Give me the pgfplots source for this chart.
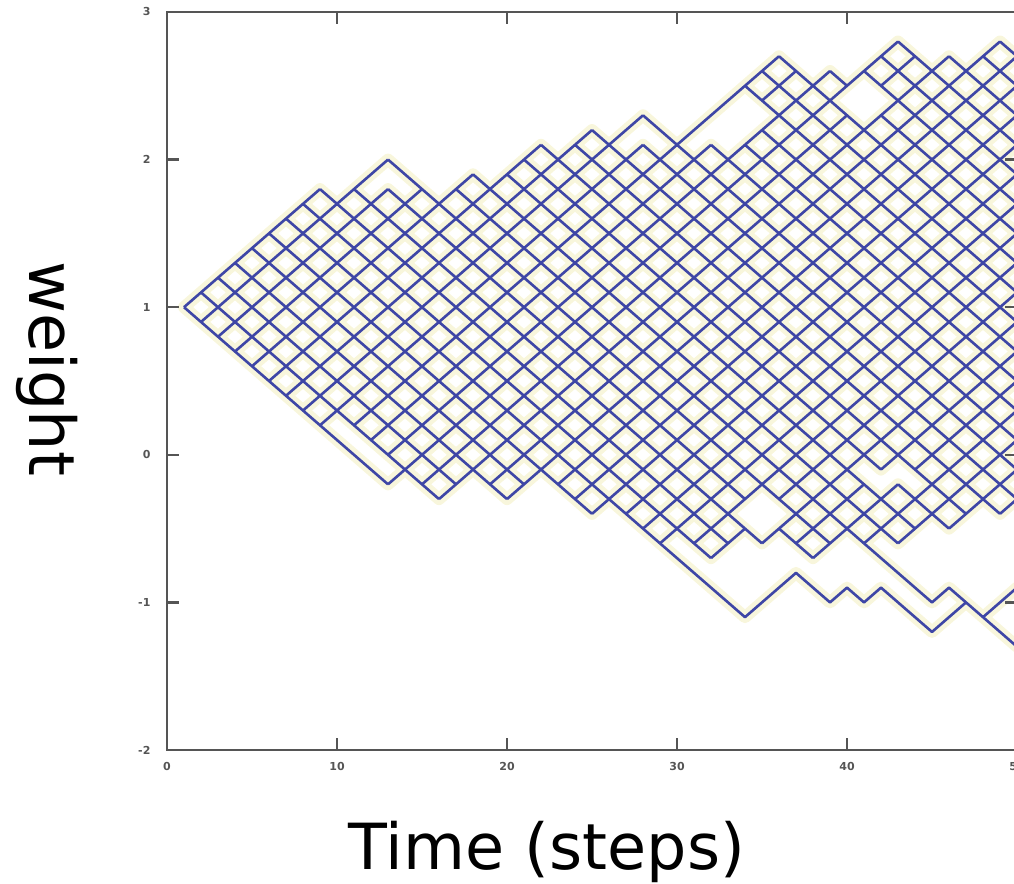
\documentclass[border=0pt]{standalone}
\usepackage{fontspec}
\setmainfont{DejaVu Sans}
\usepackage{pgfplots}
\usepackage{pgfplotstable}
\pgfplotsset{compat=1.18}

\definecolor{walk}{RGB}{62,70,166}
\definecolor{halo}{RGB}{248,246,220}
\definecolor{spine}{RGB}{85,85,85}

% Straight runs of the weight paths (each step moves the weight by 0.1);
% runs are separated by nan rows.
\pgfplotstableread{
t w
1 1.0
9 1.8
nan nan
2 0.9
13 2.0
nan nan
3 0.8
13 1.8
nan nan
4 0.7
15 1.8
nan nan
5 0.6
18 1.9
nan nan
6 0.5
22 2.1
nan nan
7 0.4
25 2.2
nan nan
8 0.3
28 2.3
nan nan
9 0.2
28 2.1
nan nan
11 0.2
36 2.7
nan nan
12 0.1
32 2.1
nan nan
35 2.4
37 2.6
nan nan
13 0.0
39 2.6
nan nan
13 -0.2
43 2.8
nan nan
15 -0.2
40 2.3
nan nan
42 2.5
44 2.7
nan nan
16 -0.3
46 2.7
nan nan
19 -0.2
49 2.8
nan nan
20 -0.3
50 2.7
nan nan
23 -0.2
50 2.5
nan nan
24 -0.3
50 2.3
nan nan
25 -0.4
50 2.1
nan nan
27 -0.4
50 1.9
nan nan
28 -0.5
50 1.7
nan nan
29 -0.6
50 1.5
nan nan
31 -0.6
50 1.3
nan nan
32 -0.7
34 -0.5
nan nan
36 -0.3
50 1.1
nan nan
35 -0.6
50 0.9
nan nan
37 -0.6
41 -0.2
nan nan
42 -0.1
50 0.7
nan nan
38 -0.7
43 -0.2
nan nan
44 -0.1
50 0.5
nan nan
41 -0.6
50 0.3
nan nan
43 -0.6
50 0.1
nan nan
46 -0.5
50 -0.1
nan nan
49 -0.4
50 -0.3
nan nan
1 1.0
13 -0.2
nan nan
2 1.1
16 -0.3
nan nan
3 1.2
17 -0.2
nan nan
4 1.3
20 -0.3
nan nan
5 1.4
21 -0.2
nan nan
6 1.5
25 -0.4
nan nan
7 1.6
29 -0.6
nan nan
8 1.7
32 -0.7
nan nan
9 1.8
33 -0.6
nan nan
11 1.8
35 -0.6
nan nan
13 1.8
34 -0.3
nan nan
36 -0.5
38 -0.7
nan nan
13 2.0
39 -0.6
nan nan
17 1.8
41 -0.6
nan nan
18 1.9
43 -0.6
nan nan
20 1.9
44 -0.5
nan nan
21 2.0
42 -0.1
nan nan
43 -0.2
46 -0.5
nan nan
22 2.1
47 -0.4
nan nan
24 2.1
49 -0.4
nan nan
25 2.2
50 -0.3
nan nan
28 2.1
50 -0.1
nan nan
28 2.3
50 0.1
nan nan
32 2.1
50 0.3
nan nan
34 2.1
50 0.5
nan nan
35 2.2
50 0.7
nan nan
34 2.5
50 0.9
nan nan
35 2.6
50 1.1
nan nan
36 2.7
50 1.3
nan nan
39 2.6
40 2.5
nan nan
42 2.3
50 1.5
nan nan
41 2.6
50 1.7
nan nan
42 2.7
50 1.9
nan nan
43 2.8
50 2.1
nan nan
46 2.7
50 2.3
nan nan
48 2.7
50 2.5
nan nan
49 2.8
50 2.7
}\lattice

% The two paths that stray below the main band
\pgfplotstableread{
t w
29 -0.6
34 -1.1
37 -0.8
39 -1.0
40 -0.9
41 -1.0
42 -0.9
45 -1.2
47 -1.0
48 -1.1
50 -0.9
nan nan
41 -0.6
45 -1.0
46 -0.9
50 -1.3
}\stray

\begin{document}
\begin{tikzpicture}
\begin{axis}[
  at={(167pt,133pt)}, anchor=south west,
  scale only axis, width=850pt, height=738pt,
  xmin=0, xmax=50, ymin=-2, ymax=3,
  xtick={0,10,...,50}, ytick={-2,-1,0,1,2,3},
  tick align=inside, tick pos=both,
  major tick length=12pt,
  axis line style={spine, line width=2.6pt},
  every tick/.style={spine, line width=2.4pt},
  tick label style={font=\fontsize{11}{11}\selectfont\bfseries, text=spine},
  xticklabel style={yshift=-9pt},
  yticklabel style={xshift=-13pt},
  /pgf/number format/assume math mode=true,
  unbounded coords=jump,
  axis on top,
]
\addplot[halo, line width=12pt, line join=round, line cap=round] table[x=t,y=w] {\lattice};
\addplot[halo, line width=12pt, line join=round, line cap=round] table[x=t,y=w] {\stray};
\addplot[walk, line width=2.6pt, line join=round] table[x=t,y=w] {\lattice};
\addplot[walk, line width=2.6pt, line join=round] table[x=t,y=w] {\stray};
\end{axis}
\node[anchor=base, font=\fontsize{63.6}{70}\selectfont] at (547pt,14pt) {Time (steps)};
\node[rotate=-90, font=\fontsize{63.6}{70}\selectfont] at (47pt,514pt) {weight};
\pgfresetboundingbox
\path[use as bounding box] (0,0) rectangle (1014pt,883pt);
\end{tikzpicture}
\end{document}
